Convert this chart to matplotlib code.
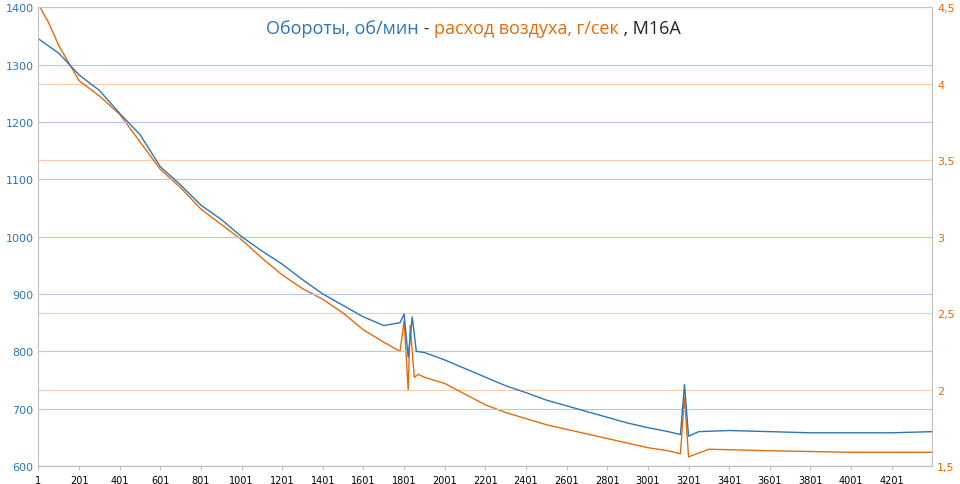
import matplotlib.pyplot as plt
import matplotlib.ticker as mticker

# Обороты, об/мин (левая ось)
rpm_x = [1, 101, 201, 301, 401, 501, 601, 701, 801, 901, 1001, 1101, 1201, 1301, 1401,
         1501, 1601, 1701, 1781, 1801, 1821, 1841, 1861, 1901, 2001, 2101, 2201, 2301,
         2401, 2501, 2601, 2701, 2801, 2901, 3001, 3101, 3161, 3181, 3201, 3251, 3401,
         3601, 3801, 4001, 4201, 4400]
rpm_y = [1345, 1320, 1282, 1255, 1215, 1178, 1122, 1090, 1055, 1030, 1000, 975, 952, 925, 900,
         880, 860, 845, 850, 865, 790, 860, 800, 798, 785, 770, 755, 740,
         728, 715, 705, 695, 685, 675, 667, 660, 655, 742, 652, 660, 662,
         660, 658, 658, 658, 660]

# Расход воздуха, г/сек (правая ось)
air_x = [1, 51, 101, 201, 301, 401, 501, 601, 701, 801, 901, 1001, 1101, 1201, 1301, 1401,
         1501, 1601, 1701, 1781, 1801, 1821, 1831, 1851, 1871, 1901, 2001, 2101, 2201,
         2301, 2401, 2501, 2601, 2701, 2801, 2901, 3001, 3101, 3161, 3181, 3201, 3301,
         3601, 4001, 4400]
air_y = [4.52, 4.4, 4.25, 4.02, 3.92, 3.8, 3.62, 3.44, 3.32, 3.18, 3.08, 2.98, 2.86, 2.75, 2.66, 2.59,
         2.5, 2.39, 2.31, 2.25, 2.45, 2.0, 2.42, 2.08, 2.1, 2.08, 2.04, 1.97, 1.9,
         1.85, 1.81, 1.77, 1.74, 1.71, 1.68, 1.65, 1.62, 1.6, 1.58, 1.95, 1.56, 1.61,
         1.6, 1.59, 1.59]

x_ticks = list(range(1, 4202, 200))

blue = '#2e75b6'
orange = '#e46c0a'

fig, ax = plt.subplots(figsize=(9.6, 4.85), dpi=100)
fig.subplots_adjust(left=0.04, right=0.971, top=0.983, bottom=0.037)
ax2 = ax.twinx()

ax.set_ylim(600, 1400)
ax.set_yticks(range(600, 1401, 100))
ax2.set_ylim(1.5, 4.5)
ax2.set_yticks([1.5, 2, 2.5, 3, 3.5, 4, 4.5])
ax2.yaxis.set_major_formatter(mticker.FuncFormatter(lambda v, p: f'{v:g}'.replace('.', ',')))

ax.grid(axis='y', color='#b4c7e7', lw=0.8)
ax2.grid(axis='y', color='#f8cbad', lw=0.8)
ax.set_axisbelow(True)

ax2.plot(air_x, air_y, color=orange, lw=1.0)
ax.plot(rpm_x, rpm_y, color=blue, lw=1.0)
ax.set_zorder(ax2.get_zorder() + 1)
ax.patch.set_visible(False)

ax.set_xlim(1, 4400)
ax.set_xticks(x_ticks)
ax.tick_params(axis='x', labelsize=7, length=3, color='#bfbfbf')
ax.tick_params(axis='y', labelsize=8, colors=blue, length=0)
ax2.tick_params(axis='y', labelsize=8, colors=orange, length=0)
for a in (ax, ax2):
    for s in a.spines.values():
        s.set_visible(False)
    a.spines['bottom'].set_visible(True)
    a.spines['bottom'].set_color('#bfbfbf')
ax.spines['left'].set_visible(True)
ax.spines['left'].set_color('#bfbfbf')
ax2.spines['right'].set_visible(True)
ax2.spines['right'].set_color('#bfbfbf')

fs = 13
t = ax.text(0.255, 0.955, 'Обороты, об/мин', color=blue, fontsize=fs, transform=ax.transAxes,
            ha='left', va='center', fontfamily='Open Sans')
fig.canvas.draw()
t2 = ax.annotate(' - ', xycoords=t, xy=(1, 0.5), va='center', fontsize=fs, color='#404040', fontfamily='Open Sans')
t3 = ax.annotate('расход воздуха, г/сек', xycoords=t2, xy=(1, 0.5), va='center', fontsize=fs, color=orange, fontfamily='Open Sans')
ax.annotate(' , M16A', xycoords=t3, xy=(1, 0.5), va='center', fontsize=fs, color='#262626', fontfamily='Open Sans')

fig.savefig('out.png')
